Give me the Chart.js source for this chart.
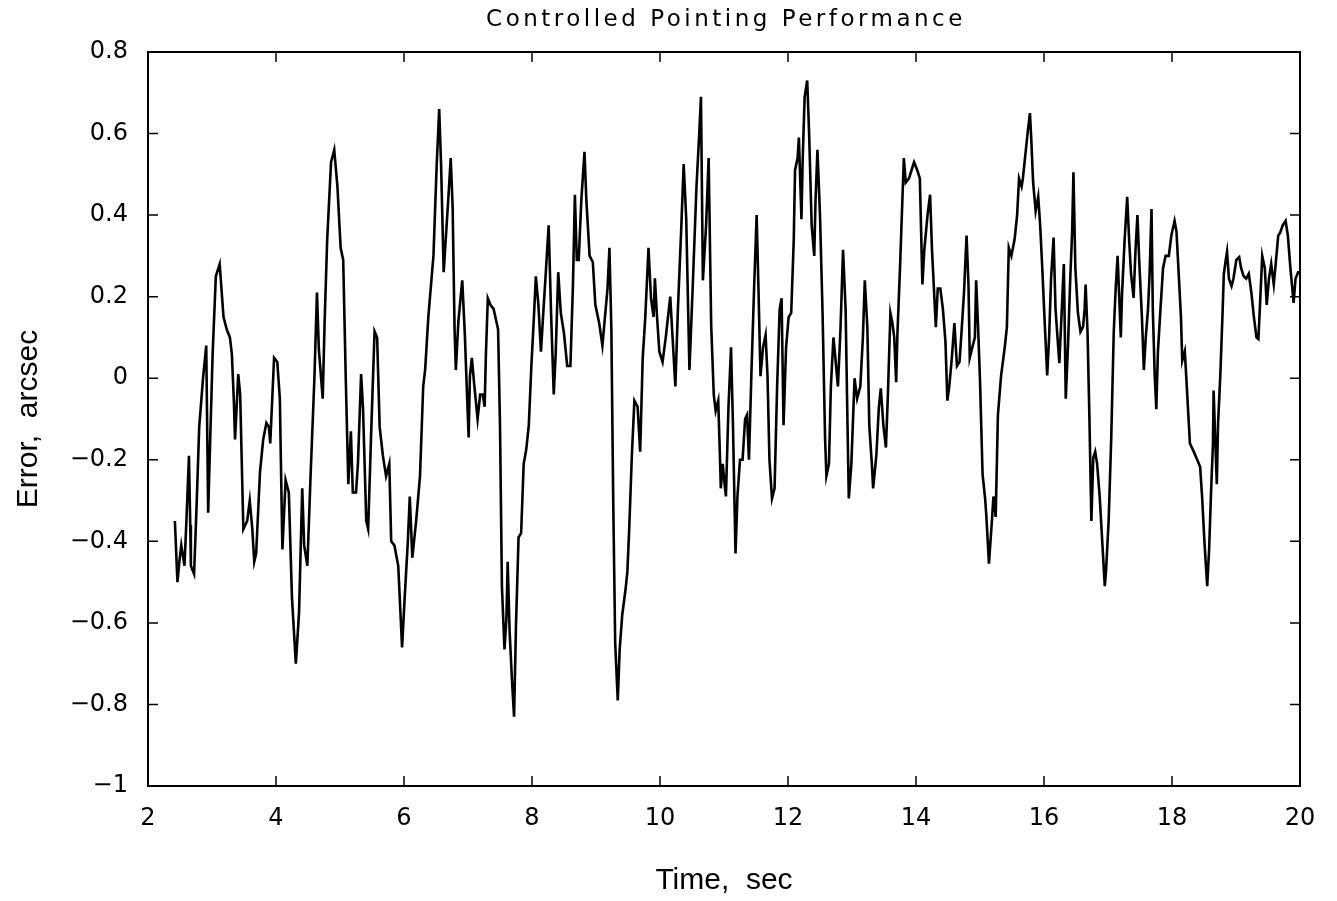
<!DOCTYPE html>
<html>
<head>
<meta charset="utf-8">
<title>Controlled Pointing Performance</title>
<script src="https://cdn.jsdelivr.net/npm/chart.js@4/dist/chart.umd.min.js"></script>
<style>
    html, body { margin: 0; padding: 0; background: #fff; }
    #wrap { width: 1337px; height: 901px; }
</style>
</head>
<body>
<div id="wrap"><canvas id="pointingChart"></canvas></div>
<script>
// values
const timeSec = [
    2.42, 2.46, 2.49, 2.52, 2.57, 2.60, 2.64, 2.66, 2.67, 2.72, 2.76, 2.80, 2.86, 2.91, 2.94, 2.97,
    3.01, 3.06, 3.12, 3.18, 3.23, 3.28, 3.31, 3.34, 3.36, 3.41, 3.44, 3.49, 3.55, 3.59, 3.63, 3.66,
    3.69, 3.75, 3.80, 3.85, 3.89, 3.91, 3.97, 4.02, 4.06, 4.10, 4.15, 4.20, 4.25, 4.31, 4.36, 4.41,
    4.44, 4.49, 4.54, 4.60, 4.64, 4.67, 4.73, 4.76, 4.80, 4.86, 4.91, 4.96, 5.01, 5.05, 5.09, 5.13,
    5.17, 5.20, 5.25, 5.28, 5.33, 5.36, 5.41, 5.44, 5.49, 5.54, 5.58, 5.62, 5.67, 5.72, 5.77, 5.80,
    5.85, 5.91, 5.97, 6.01, 6.06, 6.09, 6.13, 6.19, 6.25, 6.30,
    6.33, 6.38, 6.46, 6.51, 6.55, 6.58, 6.62, 6.66, 6.70, 6.73, 6.76, 6.79, 6.81, 6.85, 6.91, 6.95,
    6.98, 7.01, 7.03, 7.06, 7.10, 7.15, 7.19, 7.23, 7.26, 7.28, 7.31, 7.35, 7.40, 7.47, 7.50, 7.53,
    7.57, 7.60, 7.62, 7.65, 7.69, 7.72, 7.75, 7.79, 7.83, 7.87, 7.91, 7.95, 7.99, 8.03, 8.06, 8.10,
    8.14, 8.18, 8.22, 8.26, 8.30, 8.34, 8.37, 8.41, 8.45, 8.50, 8.55, 8.60, 8.64, 8.67, 8.70, 8.73,
    8.77, 8.82, 8.85, 8.90, 8.95, 8.99, 9.05, 9.10, 9.14, 9.18, 9.21, 9.24, 9.27, 9.30, 9.34, 9.37,
    9.41, 9.46, 9.49, 9.52, 9.56, 9.60, 9.65, 9.69, 9.73, 9.77, 9.82, 9.86, 9.90, 9.92, 9.95, 9.99,
    10.04, 10.09, 10.16, 10.20, 10.24, 10.28, 10.33, 10.37, 10.41, 10.46, 10.51, 10.57, 10.61, 10.64,
    10.67, 10.72, 10.76, 10.80, 10.84, 10.87, 10.91, 10.94, 10.95, 10.98, 11.01, 11.03, 11.07, 11.11,
    11.14, 11.18, 11.21, 11.25, 11.29, 11.33, 11.36, 11.39, 11.43, 11.47, 11.51, 11.54, 11.57, 11.61,
    11.65, 11.68, 11.71, 11.75, 11.79, 11.83, 11.87, 11.90, 11.93, 11.97, 12.01, 12.05, 12.09, 12.11,
    12.15, 12.17, 12.21, 12.23, 12.26, 12.30, 12.33, 12.37, 12.41, 12.43, 12.46, 12.50, 12.54, 12.58,
    12.60, 12.64, 12.67, 12.71, 12.74, 12.78, 12.82, 12.86, 12.90, 12.93, 12.95, 12.99, 13.04, 13.08,
    13.13, 13.17, 13.20, 13.24, 13.27, 13.31, 13.33, 13.38, 13.42, 13.45, 13.49, 13.53, 13.56, 13.60,
    13.63, 13.66, 13.69, 13.71, 13.75, 13.79, 13.81, 13.84, 13.89, 13.93, 13.97, 14.02, 14.06, 14.10,
    14.13, 14.18, 14.22, 14.25, 14.28, 14.31, 14.34, 14.38, 14.42, 14.46, 14.49, 14.52, 14.56, 14.60,
    14.64, 14.68, 14.71, 14.75, 14.79, 14.82, 14.84, 14.88, 14.92, 14.94, 14.97, 15.00, 15.04, 15.08,
    15.10, 15.14,
    15.19, 15.21, 15.245, 15.28, 15.33, 15.39, 15.42, 15.45, 15.49, 15.54, 15.58, 15.61, 15.65, 15.67,
    15.71, 15.75, 15.78, 15.80, 15.83, 15.87, 15.91, 15.94, 15.97, 16.01, 16.05, 16.08, 16.11, 16.15,
    16.18, 16.22, 16.24, 16.29, 16.31, 16.34, 16.375, 16.41, 16.44, 16.46, 16.49, 16.53, 16.57, 16.61,
    16.635, 16.65, 16.68, 16.71, 16.74, 16.77, 16.80, 16.83, 16.87, 16.91, 16.95, 16.97, 17.01, 17.05,
    17.09, 17.12, 17.15, 17.17, 17.20, 17.22, 17.26, 17.30, 17.33, 17.36, 17.40, 17.43, 17.46, 17.49,
    17.53, 17.56, 17.59, 17.625, 17.65, 17.68, 17.70, 17.73, 17.755, 17.78, 17.82, 17.86, 17.90, 17.95,
    17.99, 18.04, 18.07, 18.10, 18.14, 18.16, 18.20, 18.23, 18.28, 18.34, 18.41, 18.44, 18.47, 18.51,
    18.55, 18.58, 18.61, 18.64, 18.65, 18.68, 18.70, 18.72, 18.755, 18.79, 18.81, 18.84, 18.86, 18.89,
    18.93, 18.96, 19.005, 19.05, 19.08, 19.12, 19.16, 19.20, 19.24, 19.28, 19.32, 19.35, 19.38, 19.41,
    19.45, 19.48, 19.515, 19.55, 19.59, 19.62, 19.66, 19.69, 19.73, 19.775, 19.81, 19.85, 19.88, 19.90,
    19.93, 19.97, 20.0
];

const errorArcsec = [
    -0.35, -0.50, -0.45, -0.41, -0.46, -0.35, -0.19, -0.36, -0.46, -0.48, -0.31, -0.12, 0.00, 0.08, -0.33, -0.16,
    0.06, 0.25, 0.28, 0.15, 0.12, 0.10, 0.06, -0.05, -0.15, 0.01, -0.04, -0.37, -0.35, -0.30, -0.37, -0.45,
    -0.43, -0.23, -0.15, -0.11, -0.12, -0.16, 0.05, 0.04, -0.05, -0.42, -0.25, -0.28, -0.54, -0.70, -0.575, -0.27,
    -0.41, -0.46, -0.24, 0.00, 0.21, 0.07, -0.05, 0.14, 0.34, 0.53, 0.56, 0.47, 0.32, 0.29, 0.00, -0.26,
    -0.13, -0.28, -0.28, -0.21, 0.01, -0.075, -0.35, -0.37, -0.12, 0.115, 0.10, -0.12, -0.19, -0.24, -0.21, -0.40,
    -0.41, -0.46, -0.66, -0.54, -0.40, -0.29, -0.44, -0.35, -0.24, -0.02,
    0.02, 0.15, 0.30, 0.52, 0.66, 0.52, 0.26, 0.36, 0.46, 0.54, 0.42, 0.12, 0.02, 0.14, 0.24, 0.11,
    -0.02, -0.145, 0.005, 0.05, -0.02, -0.10, -0.04, -0.04, -0.07, 0.06, 0.196, 0.18, 0.17, 0.12, -0.115, -0.51,
    -0.665, -0.59, -0.45, -0.62, -0.75, -0.83, -0.605, -0.39, -0.38, -0.21, -0.175, -0.115, 0.03, 0.15, 0.25, 0.18,
    0.065, 0.17, 0.27, 0.375, 0.15, -0.04, 0.06, 0.26, 0.16, 0.11, 0.03, 0.03, 0.23, 0.45, 0.29, 0.29,
    0.435, 0.555, 0.435, 0.30, 0.285, 0.18, 0.135, 0.08, 0.15, 0.22, 0.32, 0.12, -0.31, -0.65, -0.79, -0.665,
    -0.58, -0.52, -0.475, -0.365, -0.19, -0.055, -0.07, -0.18, 0.05, 0.15, 0.32, 0.195, 0.15, 0.245, 0.16, 0.065,
    0.04, 0.10, 0.20, 0.09, -0.02, 0.17, 0.36, 0.525, 0.39, 0.02, 0.22, 0.47, 0.59, 0.69,
    0.24, 0.375, 0.54, 0.13, -0.04, -0.08, -0.055, -0.21, -0.27, -0.21, -0.26, -0.29, -0.07, 0.076,
    -0.115, -0.43, -0.29, -0.20, -0.20, -0.10, -0.09, -0.20, 0.02, 0.22, 0.40, 0.21, 0.005, 0.076,
    0.106, 0.005, -0.20, -0.295, -0.27, -0.02, 0.17, 0.196, -0.115, 0.076, 0.15, 0.16, 0.34, 0.51,
    0.54, 0.59, 0.39, 0.54, 0.69, 0.73, 0.60, 0.375, 0.30, 0.435, 0.56, 0.40, 0.16, -0.15,
    -0.24, -0.21, -0.02, 0.10, 0.05, -0.02, 0.12, 0.315, 0.17, -0.115, -0.295, -0.21, 0.00, -0.05,
    -0.02, 0.10, 0.24, 0.125, -0.115, -0.21, -0.27, -0.19, -0.07, -0.025, -0.115, -0.17, -0.045, 0.16,
    0.136, 0.10, -0.01, 0.11, 0.27, 0.45, 0.54, 0.48, 0.49, 0.51, 0.53, 0.51, 0.49, 0.23,
    0.315, 0.40, 0.45, 0.315, 0.22, 0.125, 0.22, 0.22, 0.17, 0.09, -0.055, -0.02, 0.05, 0.135,
    0.03, 0.04, 0.11, 0.21, 0.35, 0.23, 0.05, 0.076, 0.10, 0.24, 0.125, -0.005, -0.235, -0.295,
    -0.34, -0.455,
    -0.34, -0.29, -0.34, -0.09, 0.007, 0.08, 0.125, 0.32, 0.30, 0.34, 0.40, 0.49, 0.47, 0.49,
    0.55, 0.61, 0.65, 0.59, 0.48, 0.41, 0.445, 0.375, 0.28, 0.14, 0.007, 0.10, 0.244, 0.345,
    0.17, 0.08, 0.037, 0.21, 0.28, -0.05, 0.08, 0.244, 0.36, 0.505, 0.27, 0.16, 0.114, 0.126,
    0.17, 0.23, 0.114, -0.10, -0.35, -0.195, -0.18, -0.21, -0.29, -0.40, -0.51, -0.47, -0.35, -0.15,
    0.114, 0.22, 0.30, 0.22, 0.10, 0.21, 0.34, 0.445, 0.34, 0.256, 0.197, 0.315, 0.40, 0.28,
    0.15, 0.02, 0.10, 0.17, 0.256, 0.415, 0.17, 0.007, -0.076, 0.066, 0.17, 0.27, 0.30, 0.30,
    0.35, 0.386, 0.36, 0.27, 0.15, 0.043, 0.066, -0.017, -0.16, -0.18, -0.206, -0.218, -0.29, -0.41,
    -0.51, -0.42, -0.28, -0.16, -0.03, -0.17, -0.26, -0.11, 0.007, 0.16, 0.256, 0.29, 0.31, 0.244,
    0.226, 0.244, 0.29, 0.297, 0.27, 0.25, 0.244, 0.256, 0.21, 0.15, 0.10, 0.096, 0.197, 0.30,
    0.27, 0.18, 0.244, 0.28, 0.23, 0.28, 0.35, 0.357, 0.375, 0.386, 0.35, 0.27, 0.22, 0.185,
    0.244, 0.26, 0.26
];

const xTicks = [2, 4, 6, 8, 10, 12, 14, 16, 18, 20];
const yTicks = [-1, -0.8, -0.6, -0.4, -0.2, 0, 0.2, 0.4, 0.6, 0.8];
const chartTitle = 'Controlled Pointing Performance';

function formatY(v) {
    if (v === 0) return '0';
    const mag = Math.abs(v) === 1 ? '1' : Math.abs(v).toFixed(1);
    return (v < 0 ? '\u2212' : '') + mag;
}

// frame plus inward ticks on all four sides, title centred over the plot box
const frameTicks = {
    id: 'frameTicks',
    afterDraw(chart) {
        const { ctx, chartArea: a, scales } = chart;
        const len = 10;
        ctx.save();
        ctx.strokeStyle = '#000';
        ctx.lineWidth = 2;
        ctx.strokeRect(a.left, a.top, a.right - a.left, a.bottom - a.top);
        ctx.lineWidth = 1.5;
        ctx.beginPath();
        xTicks.forEach(t => {
            const px = scales.x.getPixelForValue(t);
            ctx.moveTo(px, a.bottom); ctx.lineTo(px, a.bottom - len);
            ctx.moveTo(px, a.top); ctx.lineTo(px, a.top + len);
        });
        yTicks.forEach(t => {
            const py = scales.y.getPixelForValue(t);
            ctx.moveTo(a.left, py); ctx.lineTo(a.left + len, py);
            ctx.moveTo(a.right, py); ctx.lineTo(a.right - len, py);
        });
        ctx.stroke();

        // the old plotter font is wide and a little spaced out
        ctx.fillStyle = '#000';
        ctx.font = '23px "DejaVu Sans"';
        ctx.letterSpacing = '3.5px';
        ctx.textAlign = 'center';
        ctx.textBaseline = 'middle';
        ctx.fillText(chartTitle, (a.left + a.right) / 2 + 2, 20);
        ctx.restore();
    }
};

const points = timeSec.map((t, i) => ({ x: t, y: errorArcsec[i] }));

new Chart(document.getElementById('pointingChart'), {
    type: 'line',
    data: {
        datasets: [{
            data: points,
            borderColor: '#000',
            borderWidth: 2.6,
            pointRadius: 0,
            tension: 0,
            fill: false
        }]
    },
    options: {
        responsive: true,
        maintainAspectRatio: false,
        animation: false,
        layout: { padding: { left: 0, right: 37, top: 52, bottom: 0 } },
        plugins: {
            legend: { display: false },
            tooltip: { enabled: false },
            title: { display: false }
        },
        scales: {
            x: {
                type: 'linear',
                min: 2,
                max: 20,
                afterBuildTicks: scale => { scale.ticks = xTicks.map(v => ({ value: v })); },
                afterFit: scale => { scale.height = 115; },
                grid: { display: false },
                border: { display: false },
                ticks: {
                    color: '#000',
                    padding: 10,
                    maxRotation: 0,
                    font: { family: 'DejaVu Sans', size: 24 }
                },
                title: {
                    display: true,
                    text: 'Time,  sec',
                    color: '#000',
                    font: { family: 'Liberation Sans', size: 30 },
                    padding: { top: 0, bottom: 2 }
                }
            },
            y: {
                min: -1,
                max: 0.8,
                afterBuildTicks: scale => { scale.ticks = yTicks.map(v => ({ value: v })); },
                afterFit: scale => { scale.width = 148; },
                grid: { display: false },
                border: { display: false },
                ticks: {
                    color: '#000',
                    padding: 12,
                    font: { family: 'DejaVu Sans', size: 24 },
                    callback: v => formatY(v)
                },
                title: {
                    display: true,
                    text: 'Error,  arcsec',
                    color: '#000',
                    font: { family: 'Liberation Sans', size: 30 },
                    padding: { top: 11, bottom: 0 }
                }
            }
        }
    },
    plugins: [frameTicks]
});
</script>
</body>
</html>
